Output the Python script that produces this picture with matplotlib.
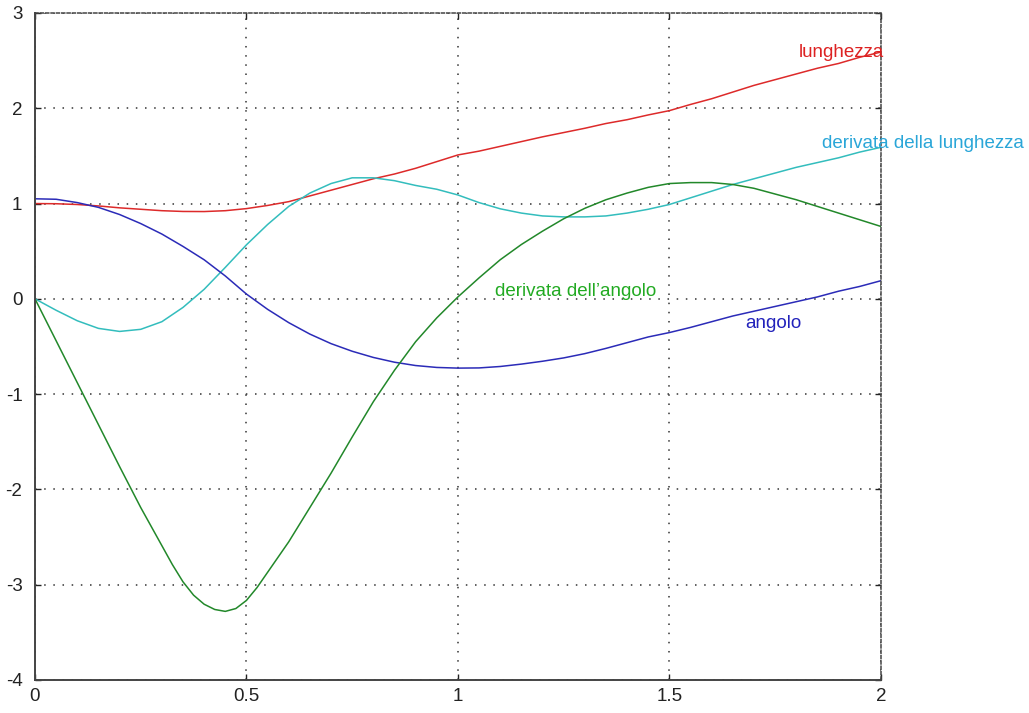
import numpy as np
import matplotlib
matplotlib.use("Agg")
import matplotlib.pyplot as plt

# tempo
t = [0.00, 0.05, 0.10, 0.15, 0.20, 0.25, 0.30, 0.35, 0.40, 0.45,
     0.50, 0.55, 0.60, 0.65, 0.70, 0.75, 0.80, 0.85, 0.90, 0.95,
     1.00, 1.05, 1.10, 1.15, 1.20, 1.25, 1.30, 1.35, 1.40, 1.45,
     1.50, 1.55, 1.60, 1.65, 1.70, 1.75, 1.80, 1.85, 1.90, 1.95, 2.00]

lunghezza = [1.000, 0.998, 0.990, 0.975, 0.955, 0.940, 0.925, 0.917, 0.916, 0.925,
             0.947, 0.980, 1.020, 1.080, 1.140, 1.200, 1.260, 1.310, 1.370, 1.440,
             1.510, 1.550, 1.600, 1.650, 1.700, 1.745, 1.790, 1.840, 1.880, 1.930,
             1.975, 2.040, 2.100, 2.170, 2.240, 2.300, 2.360, 2.420, 2.470, 2.535, 2.590]

d_lunghezza = [0.000, -0.120, -0.230, -0.310, -0.342, -0.320, -0.240, -0.090, 0.100, 0.330,
               0.567, 0.780, 0.970, 1.110, 1.210, 1.270, 1.270, 1.240, 1.190, 1.150,
               1.090, 1.010, 0.945, 0.900, 0.870, 0.860, 0.860, 0.870, 0.900, 0.940,
               0.990, 1.060, 1.130, 1.200, 1.260, 1.320, 1.380, 1.430, 1.480, 1.540, 1.590]

angolo = [1.050, 1.045, 1.010, 0.960, 0.885, 0.790, 0.680, 0.550, 0.410, 0.240,
          0.050, -0.110, -0.250, -0.370, -0.470, -0.550, -0.615, -0.665, -0.700, -0.720,
          -0.727, -0.725, -0.710, -0.685, -0.655, -0.620, -0.575, -0.520, -0.460, -0.400,
          -0.354, -0.300, -0.240, -0.180, -0.130, -0.080, -0.030, 0.020, 0.080, 0.130, 0.190]

# la derivata dell'angolo ha qualche punto in piu' vicino al minimo
t_d_angolo = [0.000, 0.050, 0.100, 0.150, 0.200, 0.250, 0.300, 0.325, 0.350, 0.375,
              0.400, 0.425, 0.450, 0.475, 0.500, 0.525, 0.550, 0.600, 0.650, 0.700,
              0.750, 0.800, 0.850, 0.900, 0.950, 1.000, 1.050, 1.100, 1.150, 1.200,
              1.250, 1.300, 1.350, 1.400, 1.450, 1.500, 1.550, 1.600, 1.650, 1.700,
              1.750, 1.800, 1.850, 1.900, 1.950, 2.000]
d_angolo = [0.000, -0.440, -0.880, -1.320, -1.760, -2.190, -2.590, -2.790, -2.970, -3.110,
            -3.205, -3.260, -3.280, -3.250, -3.165, -3.030, -2.870, -2.550, -2.190, -1.830,
            -1.450, -1.080, -0.750, -0.450, -0.200, 0.020, 0.220, 0.410, 0.570, 0.710,
            0.840, 0.950, 1.040, 1.110, 1.170, 1.210, 1.220, 1.220, 1.200, 1.160,
            1.100, 1.040, 0.970, 0.900, 0.830, 0.760]

plt.rcParams['font.family'] = ['Liberation Sans', 'DejaVu Sans']
plt.rcParams['axes.unicode_minus'] = False

fig = plt.figure(figsize=(10.29, 7.13), dpi=100)
ax = fig.add_axes([0.034, 0.0463, 0.822, 0.9355])

ax.plot(t, lunghezza, color='#dd2a2a', lw=1.1)
ax.plot(t, d_lunghezza, color='#33bdbd', lw=1.1)
ax.plot(t, angolo, color='#2b2bb8', lw=1.1)
ax.plot(t_d_angolo, d_angolo, color='#22882a', lw=1.1)

# etichette delle curve
ax.text(1.807, 2.59, 'lunghezza', color='#dd2222', fontsize=13.5, va='center')
ax.text(1.86, 1.63, 'derivata della lunghezza', color='#2aa6d8', fontsize=13.5, va='center')
ax.text(1.087, 0.08, 'derivata dell\u2019angolo', color='#22aa22', fontsize=13.5, va='center')
ax.text(1.68, -0.26, 'angolo', color='#2222bb', fontsize=13.5, va='center')

ax.set_xlim(0, 2)
ax.set_ylim(-4, 3)
ax.set_xticks([0, 0.5, 1, 1.5, 2])
ax.set_xticklabels(['0', '0.5', '1', '1.5', '2'])
ax.set_yticks(range(-4, 4))

ax.grid(True, color='#333333', linestyle=(0, (1, 5)), linewidth=1.1)
ax.tick_params(direction='in', length=4, width=1, colors='#222222',
               labelsize=13.5, right=True, top=True, pad=6)
ax.tick_params(axis='y', pad=9)

for s in ['left', 'bottom']:
    ax.spines[s].set_color('#444444')
    ax.spines[s].set_linewidth(1.4)
for s in ['top', 'right']:
    ax.spines[s].set_color('#444444')
    ax.spines[s].set_linewidth(1.1)
    ax.spines[s].set_linestyle((0, (2, 1.5)))

fig.savefig('out.png', dpi=100)
